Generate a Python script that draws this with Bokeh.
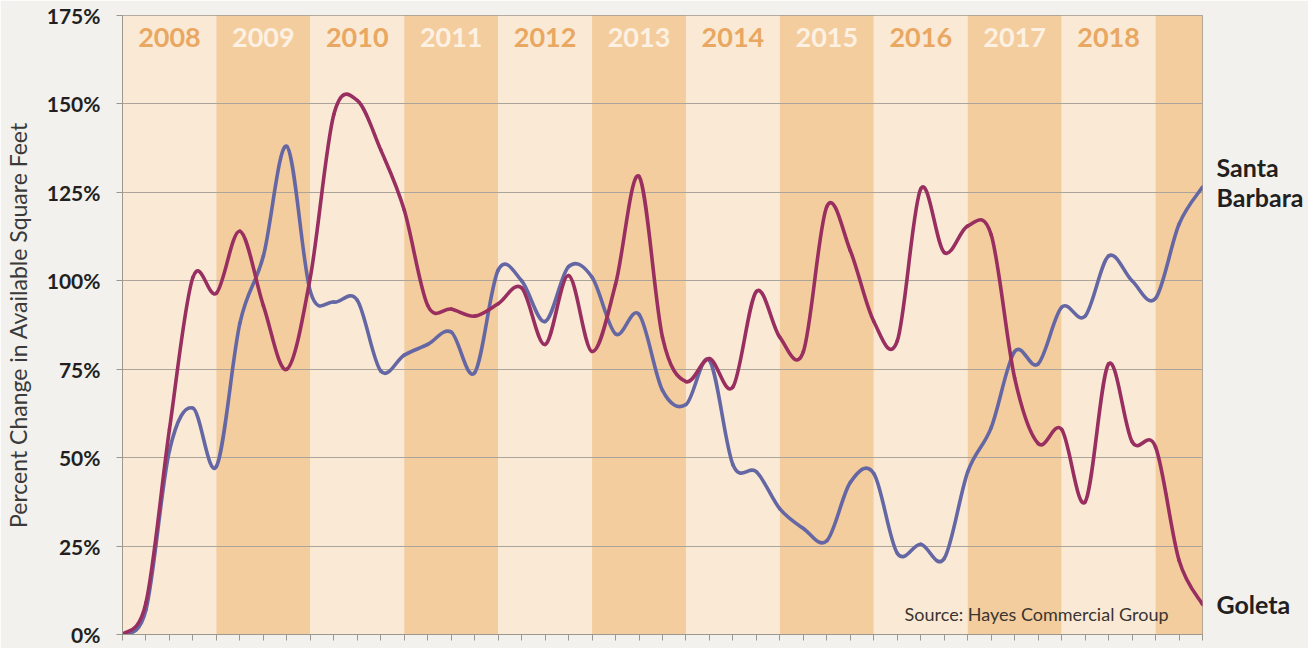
import numpy as np
from bokeh.plotting import figure
from bokeh.models import FixedTicker, PrintfTickFormatter, Label, Range1d, LinearAxis
from bokeh.core.properties import value
from bokeh.embed import file_html
from bokeh.resources import INLINE

# ---------------- data ----------------
years = ["2008", "2009", "2010", "2011", "2012", "2013",
         "2014", "2015", "2016", "2017", "2018"]
quarters = list(range(47))          # quarter index, 0 = 2008 Q1 ... 46 = 2019 Q3
quarters_per_year = 4
y_ticks = [0, 25, 50, 75, 100, 125, 150, 175]

santa_barbara = [0, 7, 52, 64, 47.5, 88, 107, 138, 97, 94, 94.5, 74.5, 79,
                 82, 85.5, 74, 103, 100, 88.5, 104, 101, 85, 90.5, 69, 65,
                 77.5, 48, 46, 35.5, 30, 26.5, 43, 45.5, 23, 25.5, 21.5, 46,
                 58.5, 80, 76.5, 92.5, 90, 107, 100, 95, 116, 126.5]

goleta = [0, 9, 58, 101, 96.5, 114, 93, 75, 101, 147, 151, 137, 120,
          93, 92, 90, 93.5, 98, 82, 101.5, 80, 99, 129.5, 84, 71.5,
          78, 70, 97, 84, 80, 121, 108.5, 88.5, 83, 126, 108, 115.5,
          113, 72.5, 54, 58, 37.5, 76.5, 54.5, 53, 21, 8.5]

series_label_pos = {132.3: "Santa", 123.6: "Barbara", 8.5: "Goleta"}

# ---------------- styles ----------------
BG = "#F2F1EE"
LIGHT = "#FAEAD5"
DARK = "#F4CD9E"
TXT_LIGHT = "#E9A762"
TXT_DARK = "#FDF1E3"
AXIS = "#9C978F"
GRID = "#AAA49A"
SB_COLOR = "#6567A5"
GO_COLOR = "#992F60"
FONT = "Lato"

x_max = quarters[-1]
y_max = y_ticks[-1]

p = figure(width=1308, height=648, output_backend="svg", toolbar_location=None,
           x_range=Range1d(0, x_max), y_range=Range1d(0, y_max),
           background_fill_color=BG, border_fill_color=BG,
           min_border_left=121, min_border_right=106,
           min_border_top=15, min_border_bottom=14)

# year bands
n_bands = len(years) + 1
band_x = [quarters_per_year * k + quarters_per_year / 2 for k in range(n_bands)]
band_colors = [LIGHT if k % 2 == 0 else DARK for k in range(n_bands)]
p.vbar(x=band_x, width=quarters_per_year, bottom=0, top=y_max,
       fill_color=band_colors, line_color=None, level="image")

# year labels
year_colors = [TXT_LIGHT if k % 2 == 0 else TXT_DARK for k in range(len(years))]
p.text(x=band_x[:len(years)], y=[168.8] * len(years), text=years,
       text_color=year_colors, text_font=value(FONT), text_font_style="bold",
       text_font_size="27px", text_align="center", text_baseline="middle")


def smooth(xs, ys, color):
    x = np.asarray(xs, float)
    y = np.asarray(ys, float)
    xp = np.concatenate([[x[0]], x, [x[-1]]])
    yp = np.concatenate([[y[0]], y, [y[-1]]])
    cx0 = x[:-1] + (xp[2:-1] - xp[:-3]) / 6
    cy0 = y[:-1] + (yp[2:-1] - yp[:-3]) / 6
    cx1 = x[1:] - (xp[3:] - xp[1:-2]) / 6
    cy1 = y[1:] - (yp[3:] - yp[1:-2]) / 6
    p.bezier(x0=x[:-1], y0=y[:-1], x1=x[1:], y1=y[1:],
             cx0=cx0, cy0=cy0, cx1=cx1, cy1=cy1,
             line_color=color, line_width=3.6, line_cap="round")


smooth(quarters, santa_barbara, SB_COLOR)
smooth(quarters, goleta, GO_COLOR)

# axes
p.yaxis.ticker = FixedTicker(ticks=y_ticks)
p.yaxis.formatter = PrintfTickFormatter(format="%d%%")
p.yaxis.major_label_text_font = FONT
p.yaxis.major_label_text_font_style = "bold"
p.yaxis.major_label_text_font_size = "21px"
p.yaxis.major_label_text_color = "#231F20"
p.yaxis.major_label_standoff = 16
p.yaxis.major_tick_out = 6
p.yaxis.major_tick_in = 0
p.yaxis.minor_tick_line_color = None
p.yaxis.major_tick_line_color = AXIS
p.yaxis.axis_line_color = AXIS
p.yaxis.axis_label = "Percent Change in Available Square Feet"
p.yaxis.axis_label_text_font = FONT
p.yaxis.axis_label_text_font_style = "normal"
p.yaxis.axis_label_text_font_size = "23px"
p.yaxis.axis_label_text_color = "#3A3A3A"
p.yaxis.axis_label_standoff = 12

p.xaxis.ticker = FixedTicker(ticks=quarters)
p.xaxis.major_label_overrides = {q: "" for q in quarters}
p.xaxis.major_label_text_font_size = "1px"
p.xaxis.major_label_standoff = 0
p.xaxis.major_tick_out = 6
p.xaxis.major_tick_in = 0
p.xaxis.minor_tick_line_color = None
p.xaxis.major_tick_line_color = AXIS
p.xaxis.axis_line_color = AXIS

# right-hand series labels as an unlined axis
label_ticks = list(series_label_pos.keys())
right = LinearAxis(ticker=FixedTicker(ticks=label_ticks),
                   major_label_overrides=series_label_pos,
                   major_label_text_font=FONT, major_label_text_font_style="bold",
                   major_label_text_font_size="25px", major_label_text_color="#231F20",
                   major_label_standoff=14, major_tick_out=0, major_tick_in=0,
                   minor_tick_out=0, minor_tick_in=0,
                   axis_line_color=None, major_tick_line_color=None,
                   minor_tick_line_color=None)
p.add_layout(right, "right")

p.xgrid.grid_line_color = None
p.ygrid.ticker = FixedTicker(ticks=y_ticks)
p.ygrid.grid_line_color = GRID
p.ygrid.grid_line_width = 1
p.outline_line_color = AXIS

p.add_layout(Label(x=x_max, y=5.9, x_offset=-34, text="Source: Hayes Commercial Group",
                   text_font=FONT, text_font_size="18px", text_color="#3A3530",
                   text_baseline="middle", text_align="right"))

open("out.html", "w").write(file_html(p, INLINE))
